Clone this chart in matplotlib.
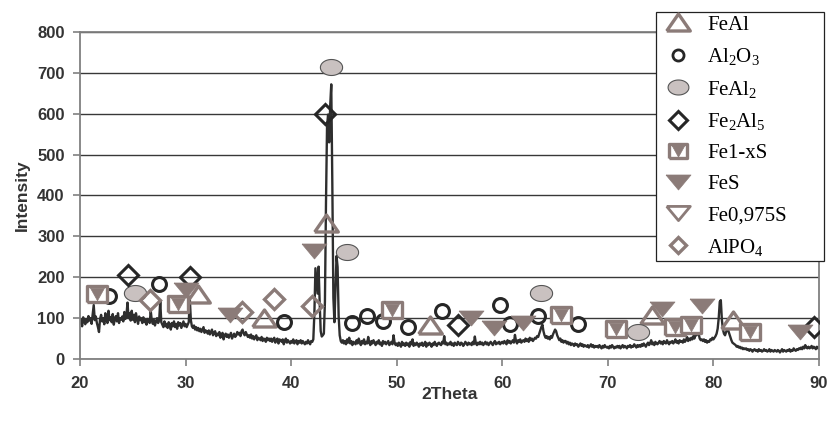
import numpy as np
import matplotlib.pyplot as plt
from matplotlib.lines import Line2D

plt.rcParams['font.family'] = 'Liberation Sans'
plt.rcParams['mathtext.fontset'] = 'custom'
plt.rcParams['mathtext.rm'] = 'Liberation Serif'
plt.rcParams['mathtext.it'] = 'Liberation Serif:italic'

# XRD scan, 2theta from 20 to 90 with 0.1 step
scan_start, scan_step = 20.0, 0.1
intensity = [
    88, 95, 80, 102, 92, 85, 98, 90, 105, 94,       # 20
    100, 86, 110, 132, 95, 104, 88, 78, 66, 98,     # 21
    108, 92, 100, 85, 112, 96, 88, 118, 95, 102,    # 22
    90, 110, 84, 98, 105, 92, 112, 88, 100, 96,     # 23
    104, 92, 115, 98, 108, 138, 100, 112, 94, 118,  # 24
    96, 108, 90, 112, 98, 86, 104, 95, 100, 88,     # 25
    102, 90, 96, 84, 98, 92, 88, 118, 94, 86,       # 26
    96, 82, 92, 100, 88, 95, 142, 90, 84, 78,       # 27
    92, 80, 86, 76, 90, 84, 72, 88, 80, 92,         # 28
    78, 86, 74, 90, 82, 88, 76, 84, 92, 80,         # 29
    86, 78, 84, 90, 148, 95, 80, 76, 82, 72,        # 30
    78, 70, 76, 68, 74, 66, 72, 78, 64, 70,         # 31
    68, 62, 70, 60, 66, 72, 58, 64, 68, 56,         # 32
    62, 58, 66, 52, 60, 64, 48, 58, 62, 54,         # 33
    60, 52, 58, 64, 50, 56, 62, 54, 58, 66,         # 34
    60, 64, 56, 68, 72, 62, 58, 66, 60, 54,         # 35
    58, 52, 60, 50, 56, 48, 54, 58, 46, 52,         # 36
    50, 46, 54, 44, 50, 48, 42, 52, 46, 50,         # 37
    44, 50, 42, 48, 52, 40, 46, 50, 38, 48,         # 38
    46, 42, 48, 36, 44, 50, 40, 46, 42, 38,         # 39
    44, 40, 48, 38, 42, 46, 36, 44, 40, 46,         # 40
    38, 44, 40, 36, 42, 38, 46, 40, 36, 44,         # 41
    42, 48, 110, 222, 190, 160, 226, 140, 68, 55,   # 42
    58, 62, 140, 380, 570, 598, 530, 620, 672, 430, # 43
    150, 90, 170, 252, 225, 105, 58, 44, 40, 46,    # 44
    38, 44, 36, 48, 40, 52, 38, 44, 34, 42,         # 45
    40, 36, 46, 38, 50, 42, 34, 44, 38, 48,         # 46
    36, 42, 38, 54, 40, 34, 44, 38, 46, 40,         # 47
    34, 42, 38, 46, 36, 40, 32, 44, 38, 42,         # 48
    36, 40, 44, 34, 38, 42, 36, 58, 40, 34,         # 49
    38, 32, 40, 36, 30, 42, 34, 38, 32, 40,         # 50
    34, 38, 30, 42, 36, 48, 32, 38, 34, 40,         # 51
    36, 30, 38, 34, 40, 32, 36, 42, 30, 38,         # 52
    34, 40, 36, 30, 38, 34, 42, 36, 32, 38,         # 53
    40, 36, 34, 42, 38, 56, 36, 40, 34, 38,         # 54
    36, 42, 34, 38, 32, 40, 36, 34, 42, 38,         # 55
    34, 40, 38, 32, 36, 42, 38, 34, 40, 36,         # 56
    38, 34, 42, 36, 55, 38, 34, 40, 36, 42,         # 57
    36, 40, 34, 38, 42, 36, 40, 34, 38, 42,         # 58
    38, 34, 40, 44, 36, 40, 38, 42, 36, 40,         # 59
    42, 38, 44, 40, 36, 46, 40, 44, 38, 42,         # 60
    46, 40, 59, 44, 38, 46, 42, 48, 40, 44,         # 61
    46, 42, 50, 44, 48, 42, 52, 46, 50, 44,         # 62
    48, 52, 50, 56, 54, 62, 70, 78, 84, 68,         # 63
    58, 52, 56, 50, 54, 48, 56, 52, 60, 66,         # 64
    72, 68, 58, 52, 46, 50, 42, 46, 40, 44,         # 65
    44, 38, 42, 36, 40, 34, 38, 36, 32, 38,         # 66
    34, 36, 30, 34, 38, 32, 36, 30, 34, 32,         # 67
    30, 34, 28, 32, 36, 30, 34, 28, 32, 30,         # 68
    32, 28, 34, 30, 26, 32, 28, 34, 30, 28,         # 69
    30, 26, 32, 28, 34, 30, 26, 30, 28, 32,         # 70
    28, 32, 26, 30, 34, 28, 32, 30, 26, 32,         # 71
    30, 34, 28, 32, 30, 36, 32, 28, 34, 30,         # 72
    34, 30, 36, 32, 38, 34, 30, 36, 40, 34,         # 73
    38, 46, 36, 40, 34, 42, 38, 36, 40, 44,         # 74
    38, 42, 36, 44, 40, 38, 46, 40, 36, 42,         # 75
    40, 44, 38, 42, 48, 40, 44, 38, 46, 42,         # 76
    44, 40, 48, 42, 46, 54, 44, 50, 46, 52,         # 77
    48, 56, 50, 60, 58, 68, 62, 50, 46, 48,         # 78
    44, 48, 42, 46, 40, 44, 42, 48, 46, 52,         # 79
    48, 52, 56, 62, 74, 100, 140, 144, 96, 72,      # 80
    62, 58, 66, 72, 70, 62, 54, 46, 40, 38,         # 81
    36, 34, 30, 32, 28, 30, 26, 28, 24, 26,         # 82
    24, 26, 22, 24, 20, 24, 22, 18, 22, 24,         # 83
    20, 22, 18, 24, 20, 22, 18, 20, 24, 20,         # 84
    22, 18, 20, 24, 18, 22, 20, 18, 22, 20,         # 85
    18, 22, 20, 16, 20, 24, 18, 22, 20, 18,         # 86
    22, 20, 24, 18, 22, 20, 26, 22, 20, 24,         # 87
    22, 26, 24, 28, 24, 30, 26, 34, 28, 26,         # 88
    30, 26, 28, 32, 26, 30, 28, 24, 30, 26,         # 89
    28,                                             # 90
]
two_theta = scan_start + scan_step * np.arange(len(intensity))

# phase markers (2theta, intensity)
feal_x = [31.2, 37.4, 43.3, 53.2, 74.2, 81.9]
feal_y = [159, 100, 332, 83, 108, 95]
al2o3_x = [22.7, 27.5, 39.3, 45.8, 47.2, 48.7, 51.1, 54.3, 59.8, 60.7, 63.4, 67.2]
al2o3_y = [154, 184, 91, 89, 105, 93, 78, 117, 132, 85, 105, 86]
feal2_x = [25.2, 43.8, 45.3, 63.7, 72.9]
feal2_y = [162, 715, 261, 162, 67]
fe2al5_x = [24.5, 30.4, 43.2, 55.8, 89.5]
fe2al5_y = [205, 201, 599, 83, 78]
fe1xs_x = [21.6, 29.3, 49.6, 65.6, 70.8, 76.4, 77.9, 83.5]
fe1xs_y = [159, 135, 120, 108, 74, 78, 83, 67]
fes_x = [30.0, 34.2, 42.2, 57.0, 59.2, 62.0, 75.1, 78.9, 88.2]
fes_y = [169, 108, 263, 100, 75, 87, 122, 130, 67]
alpo4_x = [26.6, 35.3, 38.4, 42.0]
alpo4_y = [144, 116, 147, 130]

legend_labels = ['FeAl', 'Al$_2$O$_3$', 'FeAl$_2$', 'Fe$_2$Al$_5$',
                 'Fe1-xS', 'FeS', 'Fe0,975S', 'AlPO$_4$']

brown = '#8b7b78'
dark = '#262626'
light = '#c9c1c0'

# marker shapes
tri_up = [(-1, -0.72), (1, -0.72), (0, 0.72), (-1, -0.72)]
tri_down = [(-1, 0.6), (1, 0.6), (0, -0.6), (-1, 0.6)]
tri_in = [(-1, 0.9), (1, 0.9), (0, -0.9), (-1, 0.9)]
rect = [(-1, -0.8), (1, -0.8), (1, 0.8), (-1, 0.8), (-1, -0.8)]
t = np.linspace(0, 2 * np.pi, 60)
ellipse = list(zip(np.cos(t), 0.72 * np.sin(t)))

fig = plt.figure(figsize=(8.29, 4.21), dpi=100)
ax = fig.add_axes([80 / 829, 1 - 359 / 421, 739 / 829, 327 / 421])

ax.plot(two_theta, intensity, color='#2e2e2e', lw=1.7, zorder=2)

ax.plot(feal_x, feal_y, ls='none', marker=tri_up, ms=17, mfc='none', mec=brown, mew=2.4, zorder=3)
ax.plot(al2o3_x, al2o3_y, ls='none', marker='o', ms=10, mfc='none', mec=dark, mew=2.2, zorder=3)
ax.plot(feal2_x, feal2_y, ls='none', marker=ellipse, ms=16, mfc=light, mec='#555555', mew=0.8, zorder=3)
ax.plot(fe2al5_x, fe2al5_y, ls='none', marker='D', ms=10.5, mfc='none', mec=dark, mew=2.2, zorder=3)
ax.plot(fe1xs_x, fe1xs_y, ls='none', marker=rect, ms=14, mfc='white', mec=brown, mew=2.4, zorder=3)
ax.plot(fe1xs_x, fe1xs_y, ls='none', marker=tri_in, ms=10, mfc=brown, mec=brown, mew=0.5, zorder=3)
ax.plot(fes_x, fes_y, ls='none', marker=tri_down, ms=18, mfc=brown, mec=brown, mew=0.5, zorder=3)
ax.plot(alpo4_x, alpo4_y, ls='none', marker='D', ms=10, mfc='none', mec=brown, mew=2.4, zorder=3)

ax.set_xlim(20, 90)
ax.set_ylim(0, 800)
ax.set_xticks(range(20, 91, 10))
ax.set_yticks(range(0, 801, 100))
ax.set_axisbelow(True)
ax.yaxis.grid(True, color='#383838', lw=1.0)

for s in ax.spines.values():
    s.set_color('#808080')
    s.set_linewidth(1.3)
ax.tick_params(direction='out', length=5, width=1.2, color='#808080',
               labelcolor='#333333', labelsize=12)
ax.tick_params(axis='y', pad=6)
ax.tick_params(axis='x', pad=7)
for lab in ax.get_xticklabels() + ax.get_yticklabels():
    lab.set_fontweight('bold')

ax.set_xlabel('2Theta', fontsize=12.5, fontweight='bold', color='#333333')
ax.set_ylabel('Intensity', fontsize=12.5, fontweight='bold', color='#333333')
ax.xaxis.set_label_coords(0.5, -0.085)
ax.yaxis.set_label_coords(-0.068, 0.5)

handles = [
    Line2D([], [], ls='none', marker=tri_up, ms=17, mfc='none', mec=brown, mew=2.4),
    Line2D([], [], ls='none', marker='o', ms=8, mfc='none', mec=dark, mew=2.0),
    Line2D([], [], ls='none', marker=ellipse, ms=15, mfc=light, mec='#555555', mew=0.8),
    Line2D([], [], ls='none', marker='D', ms=9.5, mfc='none', mec=dark, mew=2.2),
    (Line2D([], [], ls='none', marker=rect, ms=13, mfc='white', mec=brown, mew=2.4),
     Line2D([], [], ls='none', marker=tri_in, ms=9, mfc=brown, mec=brown, mew=0.5)),
    Line2D([], [], ls='none', marker=tri_down, ms=18, mfc=brown, mec=brown, mew=0.5),
    Line2D([], [], ls='none', marker=tri_down, ms=17, mfc='none', mec=brown, mew=2.0),
    Line2D([], [], ls='none', marker='D', ms=8.5, mfc='none', mec=brown, mew=2.4),
]
leg = ax.legend(handles, legend_labels, loc='upper left',
                bbox_to_anchor=(656 / 829, 1 - 12 / 421, 168 / 829, 0.0),
                bbox_transform=fig.transFigure, mode='expand', borderaxespad=0,
                prop={'family': 'Liberation Serif', 'size': 15},
                labelspacing=0.55, handletextpad=0.5, handlelength=1.8,
                borderpad=0.15, fancybox=False, framealpha=1, edgecolor='#222222')
leg.get_frame().set_linewidth(0.9)
leg.set_zorder(5)

fig.savefig('out.png', dpi=100)
